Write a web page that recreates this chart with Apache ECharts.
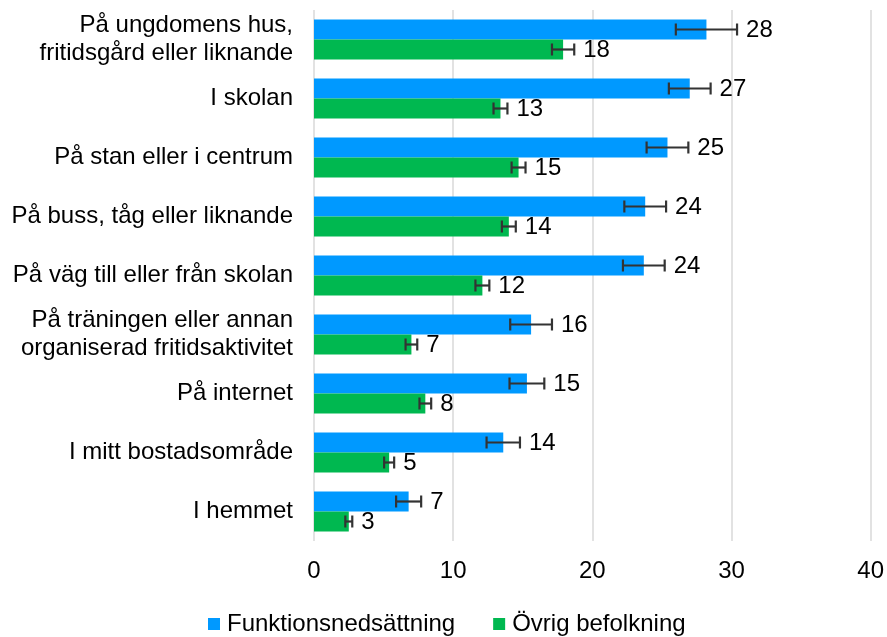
<!DOCTYPE html>
<html><head><meta charset="utf-8">
<script src="https://cdn.jsdelivr.net/npm/echarts@6/dist/echarts.min.js"></script>
<style>html,body{margin:0;padding:0;background:#fff}#c{width:887px;height:637px}</style>
</head><body><div id="c"></div>
<script>
const categories = [
  "På ungdomens hus,\nfritidsgård eller liknande",
  "I skolan",
  "På stan eller i centrum",
  "På buss, tåg eller liknande",
  "På väg till eller från skolan",
  "På träningen eller annan\norganiserad fritidsaktivitet",
  "På internet",
  "I mitt bostadsområde",
  "I hemmet"
];
const seriesNames = ["Funktionsnedsättning", "Övrig befolkning"];
const funkValues = [28.2, 27.0, 25.4, 23.8, 23.7, 15.6, 15.3, 13.6, 6.8];
const funkErrors = [2.2, 1.5, 1.5, 1.5, 1.5, 1.5, 1.25, 1.2, 0.9];
const ovrigValues = [17.9, 13.4, 14.7, 14.0, 12.1, 7.0, 8.0, 5.4, 2.5];
const ovrigErrors = [0.8, 0.5, 0.5, 0.5, 0.5, 0.42, 0.42, 0.36, 0.25];
const xTicks = [0, 10, 20, 30, 40];

const FONT = "Liberation Sans, Arial, sans-serif";
const BLUE = "#0099FF", GREEN = "#00B850";
const BAR_W = 20;

function errSeries(values, errors, side) {
  return {
    type: 'custom',
    z: 10,
    silent: true,
    data: values.map((v, i) => [i, v, errors[i]]),
    encode: { x: 1, y: 0 },
    renderItem: function (params, api) {
      const i = api.value(0), v = api.value(1), e = api.value(2);
      const c = api.coord([v, i]);
      const y = c[1] + side * BAR_W / 2;
      const x0 = api.coord([v - e, i])[0];
      const x1 = api.coord([v + e, i])[0];
      const h = 6;
      const st = { stroke: '#333333', lineWidth: 2.2 };
      return {
        type: 'group',
        children: [
          { type: 'line', shape: { x1: x0, y1: y, x2: x1, y2: y }, style: st },
          { type: 'line', shape: { x1: x0, y1: y - h, x2: x0, y2: y + h }, style: st },
          { type: 'line', shape: { x1: x1, y1: y - h, x2: x1, y2: y + h }, style: st },
          { type: 'text', x: x1 + 9, y: y + 1, style: { text: String(Math.round(v)), fill: '#000', font: '24px ' + FONT, textAlign: 'left', textVerticalAlign: 'middle' } }
        ]
      };
    }
  };
}

const chart = echarts.init(document.getElementById('c'), null, { renderer: 'canvas' });
chart.setOption({
  animation: false,
  backgroundColor: '#fff',
  textStyle: { fontFamily: FONT },
  grid: { left: 314, right: 16, top: 10, bottom: 96, containLabel: false },
  legend: {
    data: seriesNames,
    left: 203, top: 607,
    itemWidth: 12, itemHeight: 12, itemGap: 38,
    icon: 'rect',
    textStyle: { fontSize: 24, color: '#000', fontFamily: FONT, padding: [0, 0, 0, 2] }
  },
  xAxis: {
    type: 'value', min: xTicks[0], max: xTicks[xTicks.length - 1], interval: 10,
    axisLine: { show: false }, axisTick: { show: false },
    axisLabel: { fontSize: 24, color: '#000', margin: 18, fontFamily: FONT },
    splitLine: { show: true, lineStyle: { color: '#D9D9D9', width: 1.5 } }
  },
  yAxis: {
    type: 'category', data: categories, inverse: true,
    axisLine: { show: false }, axisTick: { show: false },
    axisLabel: { fontSize: 24, color: '#000', margin: 21, lineHeight: 28, align: 'right', fontFamily: FONT }
  },
  series: [
    { name: seriesNames[0], type: 'bar', data: funkValues, barWidth: BAR_W, barGap: '0%', itemStyle: { color: BLUE } },
    { name: seriesNames[1], type: 'bar', data: ovrigValues, barWidth: BAR_W, barGap: '0%', itemStyle: { color: GREEN } },
    errSeries(funkValues, funkErrors, -1),
    errSeries(ovrigValues, ovrigErrors, 1)
  ]
});
</script></body></html>
